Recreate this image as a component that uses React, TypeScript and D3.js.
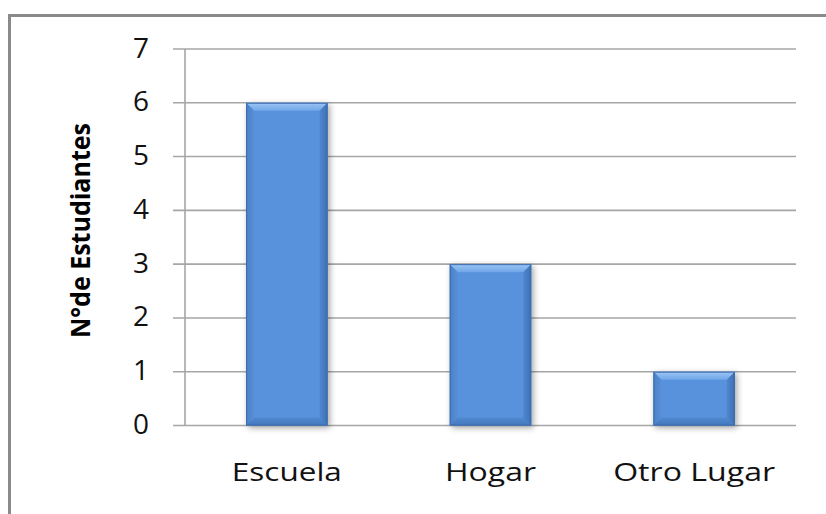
import React from "react";
import * as d3 from "d3";

const categories = ["Escuela", "Hogar", "Otro Lugar"];
const values = [6, 3, 1];
const yTicks = [0, 1, 2, 3, 4, 5, 6, 7];
const yLabel = "N°de Estudiantes";
const labelLengths = [110, 91, 162];

const W = 826;
const H = 514;
const plot = { left: 185, right: 796, top: 49, bottom: 425.5 };

export default function App() {
  const x = d3
    .scaleBand<string>()
    .domain(categories)
    .range([plot.left, plot.right])
    .paddingInner(0.6)
    .paddingOuter(0.3);
  const y = d3.scaleLinear().domain([0, 7]).range([plot.bottom, plot.top]);
  const bw = x.bandwidth();
  const bev = 8;

  return (
    <div style={{ position: "fixed", left: 0, top: 0 }}>
      <svg width={W} height={H} style={{ display: "block", background: "#fff" }}>
        <defs>
          <filter id="shadow" x="-30%" y="-30%" width="160%" height="160%">
            <feGaussianBlur in="SourceAlpha" stdDeviation="3" />
            <feOffset dx="2" dy="2" result="b" />
            <feComponentTransfer>
              <feFuncA type="linear" slope="0.35" />
            </feComponentTransfer>
            <feMerge>
              <feMergeNode />
              <feMergeNode in="SourceGraphic" />
            </feMerge>
          </filter>
          <linearGradient id="topBev" x1="0" y1="0" x2="0" y2="1">
            <stop offset="0" stopColor="#9cc6f5" />
            <stop offset="1" stopColor="#70a6e8" />
          </linearGradient>
          <linearGradient id="botBev" x1="0" y1="0" x2="0" y2="1">
            <stop offset="0" stopColor="#5189d0" />
            <stop offset="1" stopColor="#4277bd" />
          </linearGradient>
          <linearGradient id="leftBev" x1="0" y1="0" x2="1" y2="0">
            <stop offset="0" stopColor="#4a80c6" />
            <stop offset="1" stopColor="#5790d8" />
          </linearGradient>
          <linearGradient id="rightBev" x1="0" y1="0" x2="1" y2="0">
            <stop offset="0" stopColor="#5087cf" />
            <stop offset="1" stopColor="#3e6fb2" />
          </linearGradient>
        </defs>

        {/* outer frame */}
        <rect x={9.5} y={15.5} width={900} height={600} fill="none" stroke="#8a8a8a" strokeWidth={3} />

        {/* gridlines */}
        {yTicks.map((t) => (
          <line
            key={"g" + t}
            x1={plot.left - 12}
            x2={plot.right}
            y1={y(t)}
            y2={y(t)}
            stroke="#a6a6a6"
            strokeWidth={1.6}
          />
        ))}
        {/* axis line */}
        <line x1={plot.left} x2={plot.left} y1={plot.top} y2={plot.bottom} stroke="#a6a6a6" strokeWidth={1.6} />

        {/* tick labels */}
        {yTicks.map((t) => (
          <text
            key={"t" + t}
            x={149}
            y={y(t) + 8.5}
            textAnchor="end"
            fontFamily="'Open Sans', sans-serif"
            fontSize={27}
            fill="#111"
            textLength={16}
            lengthAdjust="spacingAndGlyphs"
          >
            {t}
          </text>
        ))}

        {/* bars */}
        {categories.map((c, i) => {
          const x0 = x(c)!;
          const x1 = x0 + bw;
          const y0 = y(values[i]);
          const y1 = y(0);
          return (
            <g key={c} filter="url(#shadow)">
              <rect x={x0} y={y0} width={bw} height={y1 - y0} fill="#5992dc" />
              <polygon
                points={`${x0},${y0} ${x1},${y0} ${x1 - bev},${y0 + bev} ${x0 + bev},${y0 + bev}`}
                fill="url(#topBev)"
              />
              <polygon
                points={`${x0},${y1} ${x1},${y1} ${x1 - bev},${y1 - bev} ${x0 + bev},${y1 - bev}`}
                fill="url(#botBev)"
              />
              <polygon
                points={`${x0},${y0} ${x0 + bev},${y0 + bev} ${x0 + bev},${y1 - bev} ${x0},${y1}`}
                fill="url(#leftBev)"
              />
              <polygon
                points={`${x1},${y0} ${x1 - bev},${y0 + bev} ${x1 - bev},${y1 - bev} ${x1},${y1}`}
                fill="url(#rightBev)"
              />
              <rect
                x={x0 + 0.5}
                y={y0 + 0.5}
                width={bw - 1}
                height={y1 - y0 - 1}
                fill="none"
                stroke="#3d6cab"
                strokeWidth={1}
              />
            </g>
          );
        })}

        {/* category labels */}
        {categories.map((c, i) => (
          <text
            key={"c" + c}
            x={x(c)! + bw / 2}
            y={481}
            textAnchor="middle"
            fontFamily="'Open Sans', sans-serif"
            fontSize={26}
            fill="#111"
            textLength={labelLengths[i]}
            lengthAdjust="spacingAndGlyphs"
          >
            {c}
          </text>
        ))}

        {/* y axis title */}
        <text
          transform={`translate(90, 230.5) rotate(-90)`}
          textAnchor="middle"
          fontFamily="'Open Sans', sans-serif"
          fontWeight="bold"
          fontSize={27}
          fill="#000"
          textLength={215}
          lengthAdjust="spacingAndGlyphs"
        >
          {yLabel}
        </text>
      </svg>
    </div>
  );
}
